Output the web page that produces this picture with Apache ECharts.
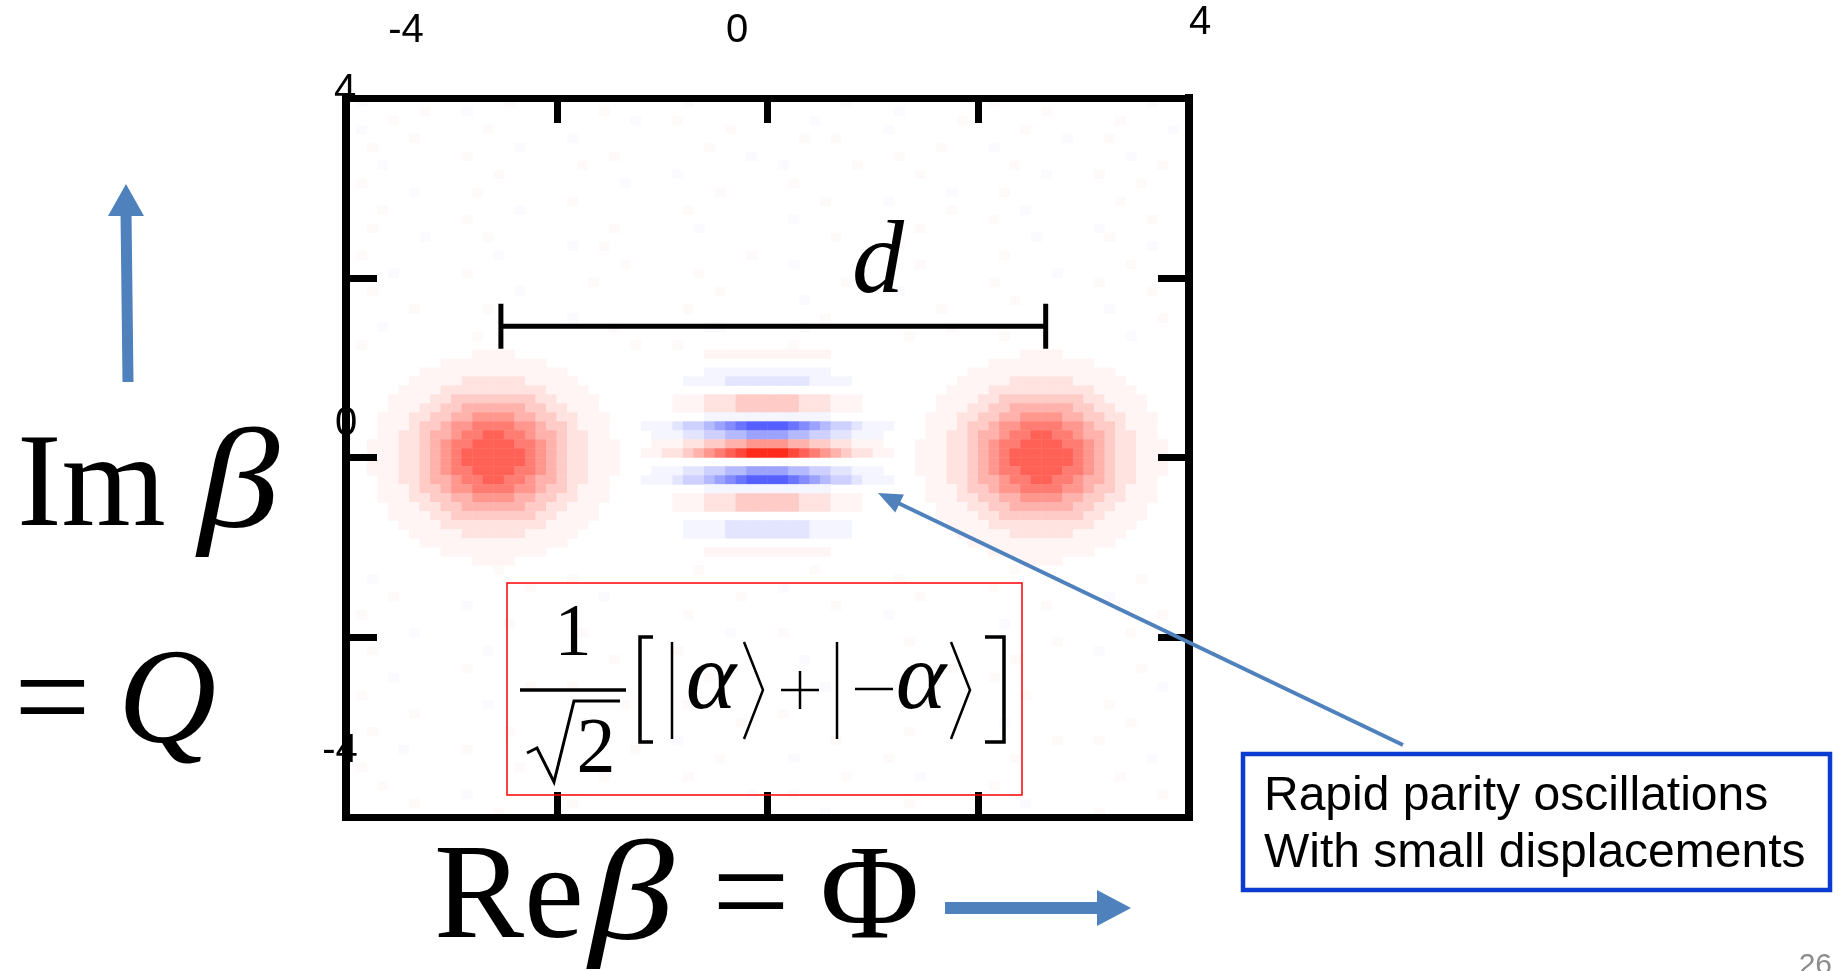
<!DOCTYPE html>
<html><head><meta charset="utf-8">
<script src="https://cdn.jsdelivr.net/npm/echarts@6/dist/echarts.min.js"></script>
<style>html,body{margin:0;padding:0;background:#fff;}#c{width:1841px;height:971px;}</style>
</head><body><div id="c"></div>
<script>
// ---------------- data ----------------
const axisMin = -4, axisMax = 4, tickStep = 2;
const topTickLabels = ['-4', '0', '4'];
const leftTickLabels = ['4', '0', '-4'];
const dBarX = [-2.53, 2.64];
const dBarY = 1.46;
const dCapHalf = 0.25;
const levelMin = -9, levelMax = 9;
const faintLevel = 0.5;
// colour of each level from -9 (blue) through 0 (white) to +9 (red)
const levelColors = ['#3f4bff', '#5560ff', '#6b74ff', '#838bff', '#9ba2ff', '#b5baff', '#ced1ff', '#e3e5ff', '#f4f5ff',
  '#ffffff',
  '#fff5f4', '#ffe3e0', '#ffcbc7', '#ffb1ab', '#ff978f', '#ff7c73', '#ff6157', '#ff483b', '#ff2c1c'];
// Wigner map: 80 rows (top = +4) x 80 columns (left = -4).
// '.' = 0, '1'..'9' = positive level, 'a'..'i' = negative level -1..-9, '+'/'-' = faint speckle
const wignerRows = [
".-........ .....+.... .......... ..-....... .......+.. .......... .+........ ......-...",
".......+.. .-........ ....+..... .......... .......... ..-....... ......+... ..........",
"....+..... .......... .......-.. .+........ ....-..... ........+. .......... ...+......",
".-........ ...+...... .......... ......+... .......... .-........ ....+..... ........-.",
"......+... .......... .-........ .......... ...+..+... .......... ........-. ..+.......",
"..+....... ......-... .......... ....+..... .......... ......+... .-........ ..........",
".......... .+........ .....+.... ........-. .......... ..+....... .......... ....-.....",
"...-...... .......... ..+....... .......... .-......+. .......... ...+...... .......+..",
".......... ....+..... .......... .-........ .......... ....+..... ......-... .+........",
".+........ .......... ......-... .......... ..+....... .......... .......... .....+....",
"......-... ..+....... .......... .....+.... .......... .......-.. ..+....... ..........",
".......... .......... .+........ .......... .....+.... .-........ .......... ...+......",
"...+...... ......-... .......... ..+....... .......... .......+.. ....-..... ..........",
".......... .+........ .......... .......... ..-....... .......... .+........ ......+...",
"..+....... .......... .....+.... ...-...... .......... ....+..... .......... .-........",
".......-.. ...+...... .......... .......... ......+... .......... .....-.... ..+.......",
".......... .......... .-..+..... .......... .......... ..+....... .......... ......-...",
".+........ ....-..... .......... ........+. .......... .......... ..+....... ..........",
".......... .......... ......+... .......... ..-....... ....+..... .......... ....+.....",
"....-..... .+........ .......... ...+...... .......... .......... .......-.. ..........",
".......... .......... ...+...... .......... .......+.. .......... .+........ .+........",
"..+....... ......-... .......... .....+.... .......... ..-....... .......... ......+...",
".......... .......... .......... .......... ...-...... .......... ...+...... ..........",
"......+... ...+...... .......... ..+....... .......... ......+... .......... ..-.......",
".......... .......... .-........ .......... .....+.... .......... .......... .......+..",
"...-...... .......... .....+.... ....--.... ...-...... .......+.. .......... ..........",
".......... ..+....... .......... .......... .......... ...+...... ..+....... ....-.....",
".+........ .......... .......+.. .+........ ..+....... .......... .......... ..........",
".. ..........1111.......... .. ......111111111111...... .. ..........1111.......... ..",
".. .......1111111111....... .. ........................ .. .......1111111111....... ..",
".. .....11111111111111..... .. ......aaaaaaaaaaaa...... .. .....11111111111111..... ..",
".. ....1111122222211111.... .. ....aaaabbbbbbbbaaaa.... .. ....1111122222211111.... ..",
".. ...111122222222221111... .. ........................ .. ...111122222222221111... ..",
".. ..11112233333333221111.. .. ...111222333333222111... .. ..11112233333333221111.. ..",
".. ..11122334444443322111.. .. ...111222333333222111... .. ..11122334444443322111.. ..",
".. .1112233445555443322111. .. ......aaaaaaaaaaaa...... .. .1112233445555443322111. ..",
".. .1112334556666554332111. .. aaabccdefghhhhgfedccbaaa .. .1112334556666554332111. ..",
".. .1122344566776654432211. .. .aaabbccddeeeeddccbbaaa. .. .1122344566776654432211. ..",
".. 111223456677776654322111 .. .1112233445555443322111. .. 111223456677776654322111 ..",
".. 111223456777777654322111 .. 112234567899998765432211 .. 111223456777777654322111 ..",
".. 111223456777777654322111 .. ........................ .. 111223456777777654322111 ..",
".. 111223456677776654322111 .. .aaabbccddeeeeddccbbaaa. .. 111223456677776654322111 ..",
".. .1122344566776654432211. .. aaabccdefghhhhgfedccbaaa .. .1122344566776654432211. ..",
".. .1112334556666554332111. .. ......aaaaaaaaaaaa...... .. .1112334556666554332111. ..",
".. .1112233445555443322111. .. ...111222333333222111... .. .1112233445555443322111. ..",
".. ..11122334444443322111.. .. ...111222333333222111... .. ..11122334444443322111.. ..",
".. ..11112233333333221111.. .. ........................ .. ..11112233333333221111.. ..",
".. ...111122222222221111... .. ....aaaabbbbbbbbaaaa.... .. ...111122222222221111... ..",
".. ....1111122222211111.... .. ....aaaabbbbbbbbaaaa.... .. ....1111122222211111.... ..",
".. .....11111111111111..... .. ........................ .. .....11111111111111..... ..",
".. .......1111111111....... .. ......111111111111...... .. .......1111111111....... ..",
".. ..........1111.......... .. ........................ .. ..........1111.......... ..",
".......... ....+..... .......... ...+...... ....+..... .......... ...+...... ..........",
"..-....... .......... .+........ .......... .......... ..+....... .......... .....+....",
".......... .......+.. .......... .......... .-........ .......... .+........ ..........",
"....+..... .......... ....-..... .......+.. .......... ....+..... .......... ..-.......",
".......... .-........ .......... .......... ......+... .......... ......+... ..........",
".+........ .......... .......... ..+....... .......... .-........ .......... .......+..",
".......... .....+.... .......... .......... .......... .......... ..-....... ..........",
"......-... .......... ..+....... ......-... .+........ .......... .......... ....+.....",
".......... .......... .......... .......... .......... ...+...... .......+.. ..........",
"..+....... ...-...... .......... .+........ .......... .......... .......... .-........",
".......... .......... .....+.... .......... ...-...... .......... ...+...... ..........",
".......... .+........ .......... .......... .......... .......+.. .......... .....+....",
"....-..... .......... .......... ....+..... .......... .......... .+........ ..........",
".......... .......+.. .+........ .......... .....-.... ..+....... .......... .......-..",
".+........ .......... .......... .......... .......... .......... ....+..... ..........",
".......... ...-...... ......+... ..+....... .......... .....+.... .......... ..+.......",
"......+... .......... .......... .......... .+........ .......... .......... ..........",
".......... .......... ..-....... .......+.. .......... .......... ..-....... ....+.....",
"..+....... .....+.... .......... .......... .......... ...+...... .......... ..........",
".......... .......... .......... .-........ ......+... .......... .......+.. .+........",
".....-.... .+........ .......+.. .......... .......... .......... .......... ..........",
".......... .......... .......... .....+.... ..-....... .+........ ...+...... ......-...",
".+........ ......+... .......... .......... .......... .......... .......... ..........",
".......... .......... ....+..... ..+....... .......+.. ....-..... .......... ...+......",
"...+...... .......... .......... .......... .......... .......... .+........ ..........",
".......... .-........ .......... ........-. ..+....... .......... .......... .......+..",
"......+... .......... .+........ .......... .......... ...+...... ....-..... ..........",
".......... ....+..... .......... .......... .....-.... .......... .......... .+........"
];
const boxLines = ['Rapid parity oscillations', 'With small displacements'];
const slideNumber = '26';

// ---------------- build ----------------
const N = wignerRows.length;
function decode(ch) {
  if (ch === '.' ) return 0;
  if (ch === '+') return faintLevel;
  if (ch === '-') return -faintLevel;
  if (ch >= '1' && ch <= '9') return ch.charCodeAt(0) - 48;
  if (ch >= 'a' && ch <= 'i') return -(ch.charCodeAt(0) - 96);
  return 0;
}
const xCats = [], yCats = [];
for (let i = 0; i < N; i++) { xCats.push(String(i)); yCats.push(String(i)); }
const heatData = [];
wignerRows.forEach((row, r) => {
  const s = row.replace(/ /g, '');
  for (let c = 0; c < N && c < s.length; c++) {
    const v = decode(s[c]);
    if (v !== 0) heatData.push([c, N - 1 - r, v]);
  }
});

const GRID = { left: 346, top: 98, width: 843, height: 719 };
function frameAxis(pos, isX) {
  return {
    type: 'value', gridIndex: 1, min: axisMin, max: axisMax, interval: tickStep,
    position: pos, z: 10,
    axisLine: { show: true, onZero: false, lineStyle: { color: '#000', width: isX ? 7 : 8, cap: 'square' } },
    axisTick: { show: true, inside: true, length: isX ? 25 : 31, lineStyle: { color: '#000', width: 7 } },
    axisLabel: { show: false }, splitLine: { show: false }
  };
}
const BLUE = '#4f81bd';
const serif = '"Liberation Serif", "Times New Roman", serif';
const sans = '"Liberation Sans", Arial, sans-serif';
const narrow = '"Liberation Sans Narrow", "Arial Narrow", "Liberation Sans", sans-serif';
function txt(text, x, y, font, opts, extra) {
  return Object.assign({ type: 'text', x: x, y: y, z: 100,
    style: Object.assign({ text: text, font: font, fill: '#000', align: 'left', verticalAlign: 'middle' }, opts || {}) }, extra || {});
}
function ln(x1, y1, x2, y2, w, color) {
  return { type: 'line', z: 100, shape: { x1, y1, x2, y2 }, style: { stroke: color || '#000', lineWidth: w } };
}
function pl(points, w, color) {
  return { type: 'polyline', z: 100, shape: { points }, style: { stroke: color || '#000', lineWidth: w, fill: null } };
}
function pg(points, color) {
  return { type: 'polygon', z: 100, shape: { points }, style: { fill: color } };
}

const graphics = [
  // misplaced tick labels of the original picture
  txt(topTickLabels[0], 406, 31, '40px ' + narrow, { align: 'center' }),
  txt(topTickLabels[1], 737, 31, '40px ' + narrow, { align: 'center' }),
  txt(topTickLabels[2], 1200, 23, '40px ' + narrow, { align: 'center' }),
  txt(leftTickLabels[0], 345, 91, '40px ' + narrow, { align: 'center' }),
  txt(leftTickLabels[1], 346, 424, '40px ' + narrow, { align: 'center' }),
  txt(leftTickLabels[2], 340, 751, '40px ' + narrow, { align: 'center' }),
  // axis titles
  txt('Im', 17, 490, '134px ' + serif),
  txt('β', 198, 490, 'italic 142px ' + serif, null, { scaleX: 1.15 }),
  txt('=', 14, 706, '136px ' + serif),
  txt('Q', 118, 706, 'italic 136px ' + serif),
  txt('Re', 434, 902, '135px ' + serif),
  txt('β', 589, 902, 'italic 142px ' + serif, null, { scaleX: 1.2 }),
  txt('=', 712, 902, '138px ' + serif),
  txt('Φ', 820, 902, '136px ' + serif),
  // arrows
  ln(128, 382, 126, 212, 11, BLUE),
  pg([[126, 184], [108, 216], [144, 216]], BLUE),
  ln(945, 908, 1100, 908, 12, BLUE),
  pg([[1131, 908], [1097, 890], [1097, 926]], BLUE),
  ln(1403, 745, 896, 502, 4, BLUE),
  pg([[878, 493], [895.3, 512.4], [903.9, 494.4]], BLUE),
  // d label
  txt('d', 878, 265, 'italic 104px ' + serif, { align: 'center' }),
  // formula box
  { type: 'rect', z: 100, shape: { x: 507, y: 583, width: 515, height: 212 }, style: { stroke: '#ff0000', lineWidth: 1.5, fill: null } },
  txt('1', 573, 636, '74px ' + serif, { align: 'center' }),
  ln(520, 690, 626, 690, 3.5),
  pl([[527, 753], [537, 748], [554, 782], [574, 701], [620, 701]], 3),
  txt('2', 596, 751, '78px ' + serif, { align: 'center' }),
  pl([[653, 637], [640, 637], [640, 742], [653, 742]], 3.5),
  ln(672, 642, 672, 739, 2.5),
  txt('α', 711, 683, 'italic 96px ' + serif, { align: 'center' }),
  pl([[744, 642], [763, 690], [744, 739]], 2.5),
  ln(781, 690, 819, 690, 2.5),
  ln(800, 671, 800, 709, 2.5),
  ln(837, 642, 837, 739, 2.5),
  ln(855, 689, 893, 689, 2.5),
  txt('α', 921, 683, 'italic 96px ' + serif, { align: 'center' }),
  pl([[951, 642], [970, 690], [951, 739]], 2.5),
  pl([[985, 637], [1004, 637], [1004, 742], [985, 742]], 3.5),
  // callout box
  { type: 'rect', z: 100, shape: { x: 1243, y: 754, width: 587, height: 136 }, style: { stroke: '#0b3bd0', lineWidth: 4.5, fill: '#fff' } },
  txt(boxLines[0], 1264, 797, '48px ' + sans),
  txt(boxLines[1], 1264, 854, '48px ' + sans),
  txt(slideNumber, 1832, 951, '30px ' + sans, { align: 'right', verticalAlign: 'top', fill: '#8c8c8c' })
];

const chart = echarts.init(document.getElementById('c'), null, { renderer: 'canvas' });
chart.setOption({
  animation: false,
  backgroundColor: '#ffffff',
  grid: [
    Object.assign({ outerBoundsMode: 'none', containLabel: false, show: false }, GRID),
    Object.assign({ outerBoundsMode: 'none', containLabel: false, show: false }, GRID)
  ],
  xAxis: [
    { type: 'category', gridIndex: 0, data: xCats, show: false, boundaryGap: true },
    frameAxis('bottom', true),
    frameAxis('top', true)
  ],
  yAxis: [
    { type: 'category', gridIndex: 0, data: yCats, show: false, boundaryGap: true },
    frameAxis('left', false),
    frameAxis('right', false)
  ],
  visualMap: {
    type: 'continuous', show: false, min: levelMin, max: levelMax, seriesIndex: 0,
    inRange: { color: levelColors }
  },
  series: [
    { type: 'heatmap', xAxisIndex: 0, yAxisIndex: 0, data: heatData, progressive: 0,
      itemStyle: { borderWidth: 0 }, emphasis: { disabled: true } },
    { type: 'line', xAxisIndex: 1, yAxisIndex: 1, symbol: 'none', z: 20,
      data: [[dBarX[0], dBarY], [dBarX[1], dBarY]], lineStyle: { color: '#000', width: 5 } },
    { type: 'line', xAxisIndex: 1, yAxisIndex: 1, symbol: 'none', z: 20,
      data: [[dBarX[0], dBarY - dCapHalf], [dBarX[0], dBarY + dCapHalf]], lineStyle: { color: '#000', width: 5 } },
    { type: 'line', xAxisIndex: 1, yAxisIndex: 1, symbol: 'none', z: 20,
      data: [[dBarX[1], dBarY - dCapHalf], [dBarX[1], dBarY + dCapHalf]], lineStyle: { color: '#000', width: 5 } }
  ],
  graphic: { elements: graphics }
});
</script>
</body></html>
